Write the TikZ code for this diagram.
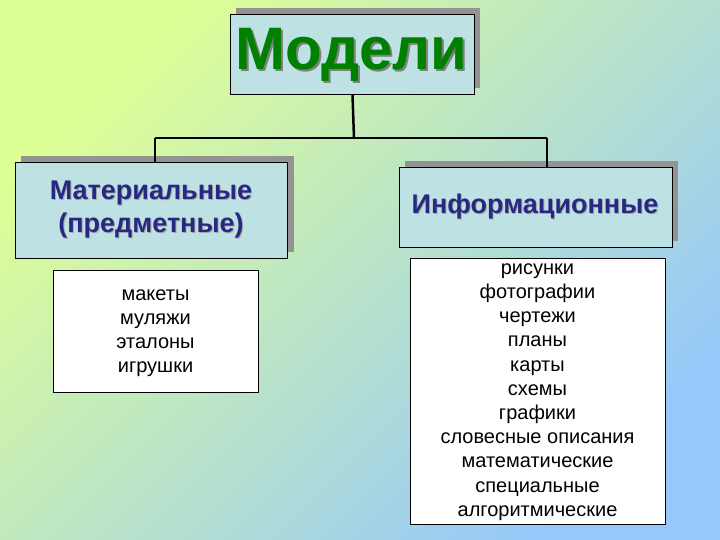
\documentclass[tikz,border=0pt]{standalone}
\usepackage{fontspec}
\setmainfont{Liberation Sans}
\begin{document}
\begin{tikzpicture}[x=1pt,y=-1pt,
  lbox/.style={draw=black,line width=0.6pt,fill=white},
  conn/.style={line width=2.5pt},
  ltxt/.style={align=center,font=\fontsize{20}{24.2}\selectfont}]
\definecolor{boxfill}{RGB}{190,226,228}
\definecolor{titlegreen}{RGB}{0,128,0}
\definecolor{navy}{RGB}{40,40,130}
\definecolor{bgA}{RGB}{222,255,150}
\definecolor{bgB}{RGB}{150,200,250}
\begin{scope}[yscale=-1]
\shade[shading=axis,top color=bgA,bottom color=bgB,shading angle=45] (0,0) rectangle (720,-540);
\end{scope}
\useasboundingbox (0,0) rectangle (720,540);
% title
\fill[gray!85] (236,8) rectangle (480,88);
\node[draw=black,line width=1pt,fill=boxfill,minimum width=244,minimum height=80,anchor=north west] (m) at (230,14) {};
\node[text=gray,font=\bfseries\fontsize{60}{66}\selectfont] at (353.5,56.5) {Модели};
\node[text=titlegreen,font=\bfseries\fontsize{60}{66}\selectfont] (mt) at (351.5,54.5) {Модели};
% left
\fill[gray!85] (21,156) rectangle (294,252);
\node[draw=black,line width=1pt,fill=boxfill,minimum width=272,minimum height=96,anchor=north west] (a) at (15,162) {};
\node[text=gray!70,align=center,font=\bfseries\fontsize{27}{33}\selectfont] at (152,211) {Материальные\\(предметные)};
\node[text=navy,align=center,font=\bfseries\fontsize{27}{33}\selectfont] at (151,210) {Материальные\\(предметные)};
% right
\fill[gray!85] (405,161) rectangle (678,241);
\node[draw=black,line width=1pt,fill=boxfill,minimum width=273,minimum height=80,anchor=north west] (b) at (399,167) {};
\node[text=gray!70,font=\bfseries\fontsize{27}{33}\selectfont] at (536,208) {Информационные};
\node[text=navy,font=\bfseries\fontsize{27}{33}\selectfont] at (535,207) {Информационные};
% connectors
\coordinate (j) at (354,138);
\draw[conn] (m.south) -- (j);
\draw[conn] (155,138) -- (547,138);
\draw[conn] (155,138) -- (a.north -| 155,0);
\draw[conn] (547,138) -- (b.north -| 547,0);
% lists
\node[lbox,minimum width=205,minimum height=122,anchor=north west] (l1) at (53,270) {};
\node[ltxt] at (155.5,333) {макеты\\муляжи\\эталоны\\игрушки};
\node[lbox,minimum width=255,minimum height=266,anchor=north west] (l2) at (410,258) {};
\node[ltxt] at (537.5,392) {рисунки\\фотографии\\чертежи\\планы\\карты\\схемы\\графики\\словесные описания\\математические\\специальные\\алгоритмические};
\end{tikzpicture}
\end{document}
